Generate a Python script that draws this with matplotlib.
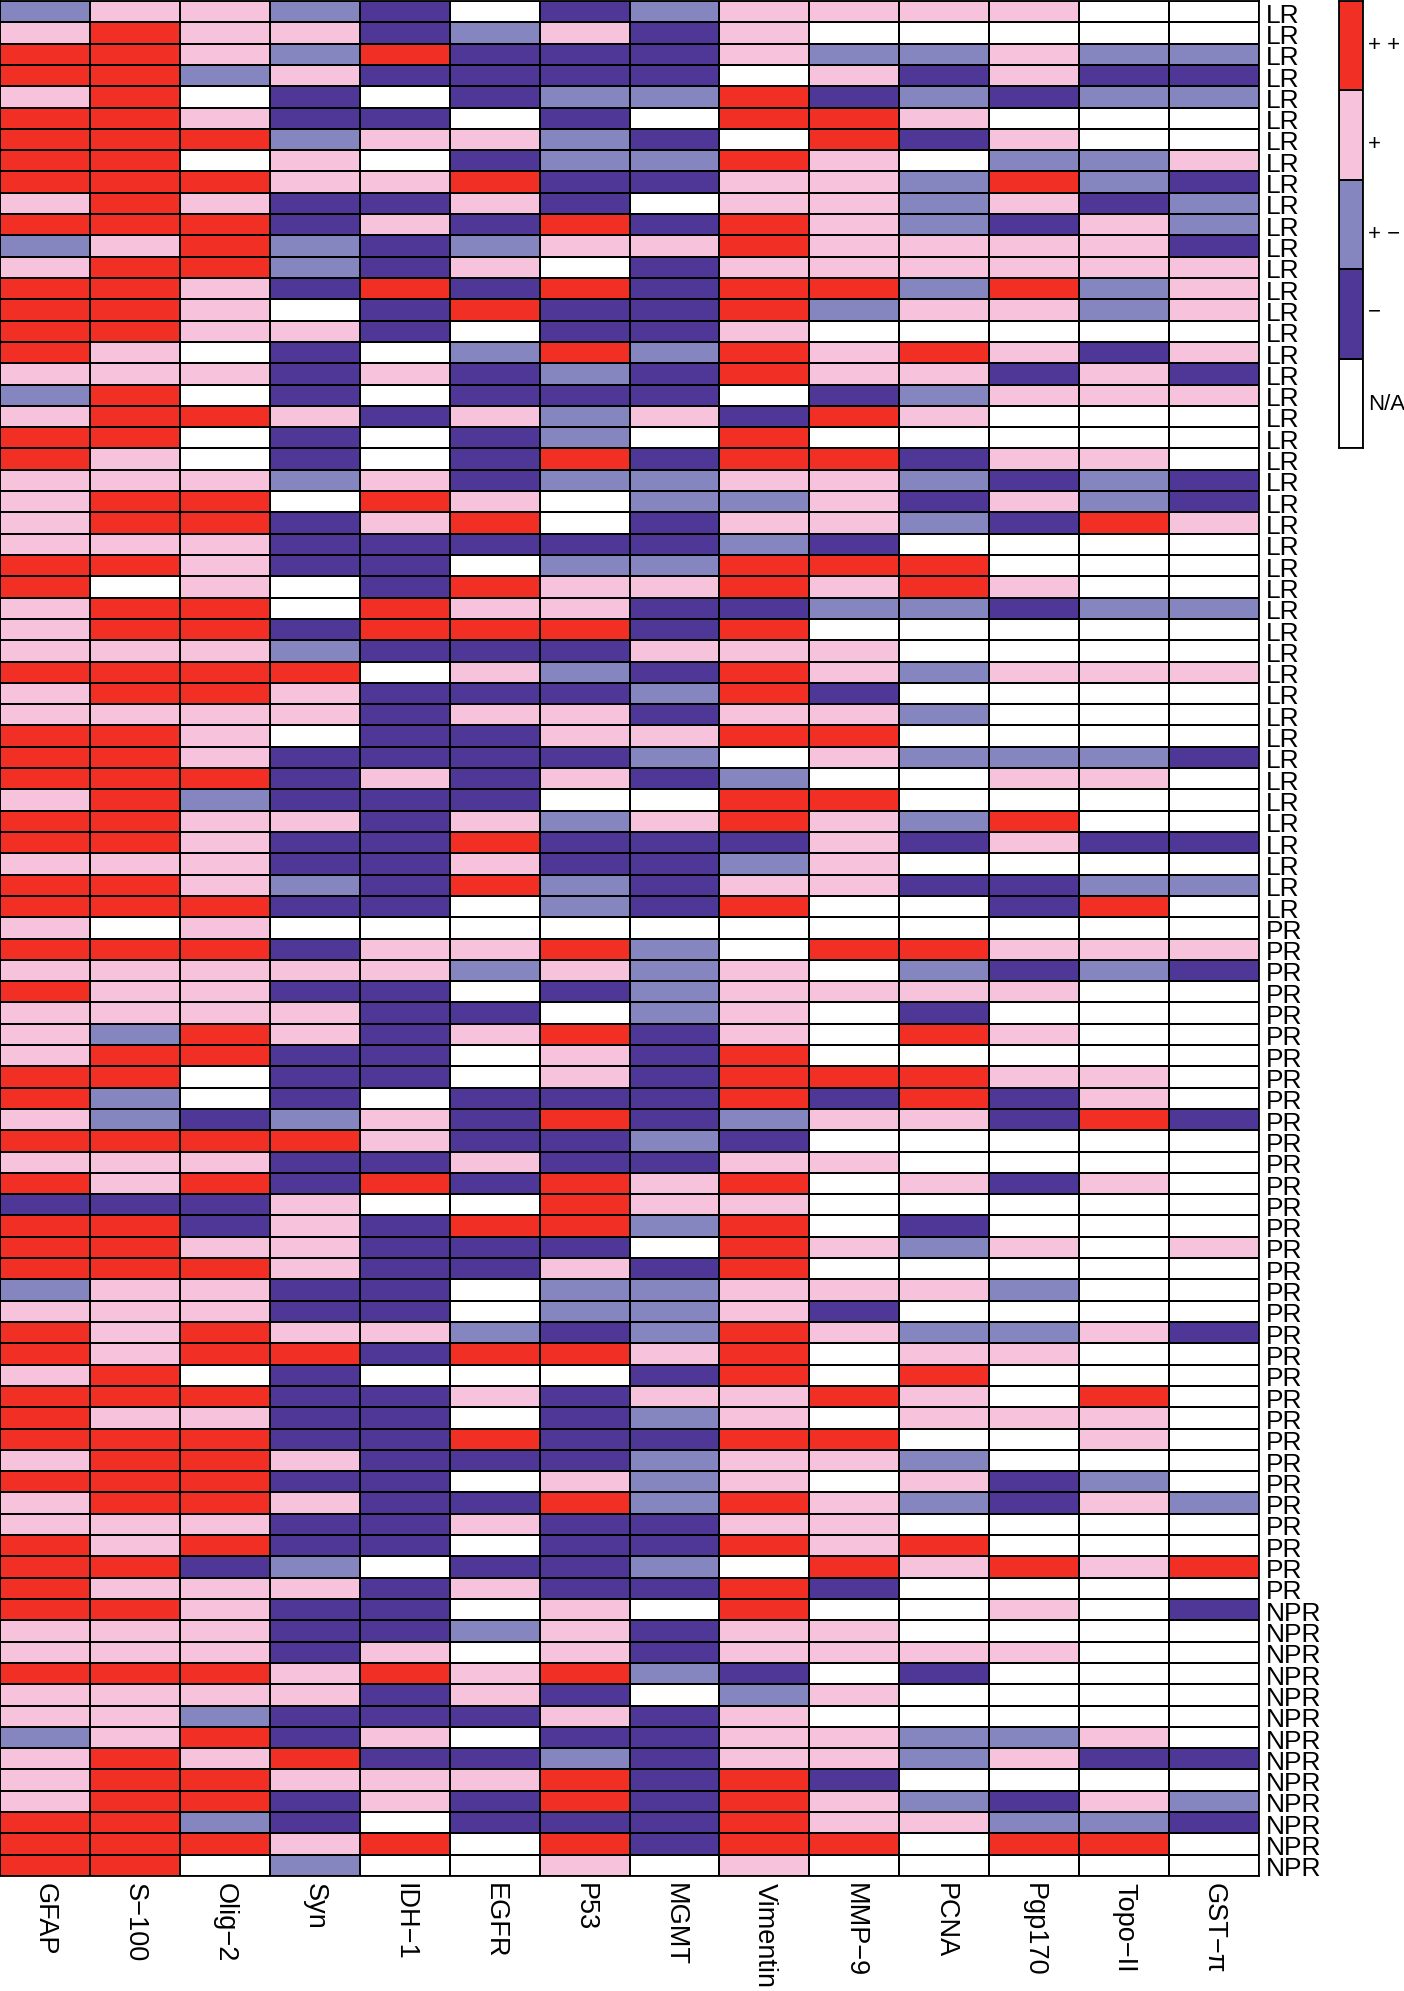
import numpy as np
import matplotlib
matplotlib.use('Agg')
import matplotlib.pyplot as plt
import matplotlib.transforms as mtrans
from matplotlib.colors import ListedColormap, BoundaryNorm

plt.rcParams['font.family'] = ['Liberation Sans', 'DejaVu Sans']

markers = ['GFAP', 'S\u2212100', 'Olig\u22122', 'Syn', 'IDH\u22121', 'EGFR', 'P53', 'MGMT',
           'Vimentin', 'MMP\u22129', 'PCNA', 'Pgp170', 'Topo\u2212II', 'GST\u2212\u03c0']
groups = ['LR'] * 43 + ['PR'] * 32 + ['NPR'] * 13

# R ++, P +, B +-, D -, W N/A
lr_rows = [
    'BPPBDWDBPPPPWW', 'PRPPDBPDPWWWWW', 'RRPBRDDDPBBPBB', 'RRBPDDDDWPDPDD',
    'PRWDWDBBRDBDBB', 'RRPDDWDWRRPWWW', 'RRRBPPBDWRDPWW', 'RRWPWDBBRPWBBP',
    'RRRPPRDDPPBRBD', 'PRPDDPDWPPBPDB', 'RRRDPDRDRPBDPB', 'BPRBDBPPRPPPPD',
    'PRRBDPWDPPPPPP', 'RRPDRDRDRRBRBP', 'RRPWDRDDRBPPBP', 'RRPPDWDDPWWWWW',
    'RPWDWBRBRPRPDP', 'PPPDPDBDRPPDPD', 'BRWDWDDDWDBPPP', 'PRRPDPBPDRPWWW',
    'RRWDWDBWRWWWWW', 'RPWDWDRDRRDPPW', 'PPPBPDBBPPBDBD', 'PRRWRPWBBPDPBD',
    'PRRDPRWDPPBDRP', 'PPPDDDDDBDWWWW', 'RRPDDWBBRRRWWW', 'RWPWDRPPRPRPWW',
    'PRRWRPPDDBBDBB', 'PRRDRRRDRWWWWW', 'PPPBDDDPPPWWWW', 'RRRRWPBDRPBPPP',
    'PRRPDDDBRDWWWW', 'PPPPDPPDPPBWWW', 'RRPWDDPPRRWWWW', 'RRPDDDDBWPBBBD',
    'RRRDPDPDBWWPPW', 'PRBDDDWWRRWWWW', 'RRPPDPBPRPBRWW', 'RRPDDRDDDPDPDD',
    'PPPDDPDDBPWWWW', 'RRPBDRBDPPDDBB', 'RRRDDWBDRWWDRW',
]
pr_rows = [
    'PWPWWWWWWWWWWW', 'RRRDPPRBWRRPPP', 'PPPPPBPBPWBDBD', 'RPPDDWDBPPPPWW',
    'PPPPDDWBPWDWWW', 'PBRPDPRDPWRPWW', 'PRRDDWPDRWWWWW', 'RRWDDWPDRRRPPW',
    'RBWDWDDDRDRDPW', 'PBDBPDRDBPPDRD', 'RRRRPDDBDWWWWW', 'PPPDDPDDPPWWWW',
    'RPRDRDRPRWPDPW', 'DDDPWWRPPWWWWW', 'RRDPDRRBRWDWWW', 'RRPPDDDWRPBPWP',
    'RRRPDDPDRWWWWW', 'BPPDDWBBPPPBWW', 'PPPDDWBBPDWWWW', 'RPRPPBDBRPBBPD',
    'RPRRDRRPRWPPWW', 'PRWDWWWDRWRWWW', 'RRRDDPDPPRPWRW', 'RPPDDWDBPWPPPW',
    'RRRDDRDDRRWWPW', 'PRRPDDDBPPBWWW', 'RRRDDWPBPWPDBW', 'PRRPDDRBRPBDPB',
    'PPPDDPDDPPWWWW', 'RPRDDWDDRPRWWW', 'RRDBWDDBWRPRPR', 'RPPPDPDDRDWWWW',
]
npr_rows = [
    'RRPDDWPWRWWPWD', 'PPPDDBPDPPWWWW', 'PPPDPWPDPPPPWW', 'RRRPRPRBDWDWWW',
    'PPPPDPDWBPWWWW', 'PPBDDDPDPWWWWW', 'BPRDPWDDPPBBPW', 'PRPRDDBDPPBPDD',
    'PRRPPPRDRDWWWW', 'PRRDPDRDRPBDPB', 'RRBDWDDDRPPBBD', 'RRRPRWRDRRWRRW',
    'RRWBWWPWPWWWWW',
]

score_codes = 'WDBPR'
score_labels = ['N/A', '\u2212', '+ \u2212', '+', '+ +']
score_colors = ['#FFFFFF', '#4F3797', '#8585BF', '#F7C3DC', '#F22F24']
# the key labels are not centred on their boxes in the original
score_label_pos = [0.52, 1.55, 2.42, 3.42, 4.53]

cmap = ListedColormap(score_colors)
norm = BoundaryNorm(np.arange(-0.5, 5.5), cmap.N)

rows = lr_rows + pr_rows + npr_rows
grid = np.array([[score_codes.index(c) for c in r] for r in rows])

W, H = 1404, 1991
fig = plt.figure(figsize=(W / 100, H / 100), dpi=100, facecolor='white')

# main heatmap
ax = fig.add_axes([0, 1 - 1876 / H, 1259 / W, (1876 - 1) / H])
ax.pcolormesh(grid, cmap=cmap, norm=norm, edgecolors='black', linewidth=1.3)
ax.invert_yaxis()
ax.set_xticks(np.arange(len(markers)) + 0.5)
ax.set_xticklabels(markers, rotation=270, ha='center', va='top', fontsize=19.5)
ax.set_yticks(np.arange(len(groups)) + 0.5)
ax.set_yticklabels(groups, fontsize=19)
ax.yaxis.tick_right()
ax.tick_params(axis='both', length=0)
ax.tick_params(axis='x', pad=5)
ax.tick_params(axis='y', pad=5)
# nudge row labels down a little
shift = mtrans.ScaledTranslation(0, -1.5 / 100, fig.dpi_scale_trans)
for lab in ax.get_yticklabels():
    lab.set_transform(lab.get_transform() + shift)
for s in ax.spines.values():
    s.set_linewidth(1.3)

# colour key
cax = fig.add_axes([1339 / W, 1 - 448 / H, 24 / W, 447 / H])
cax.pcolormesh(np.arange(5).reshape(-1, 1), cmap=cmap, norm=norm, edgecolors='black', linewidth=1.3)
cax.set_xticks([])
cax.set_yticks(score_label_pos)
cax.set_yticklabels(score_labels, fontsize=16)
cax.yaxis.tick_right()
cax.tick_params(axis='y', length=0, pad=3.5)
for s in cax.spines.values():
    s.set_linewidth(1.3)

fig.savefig('out.png', dpi=100)
